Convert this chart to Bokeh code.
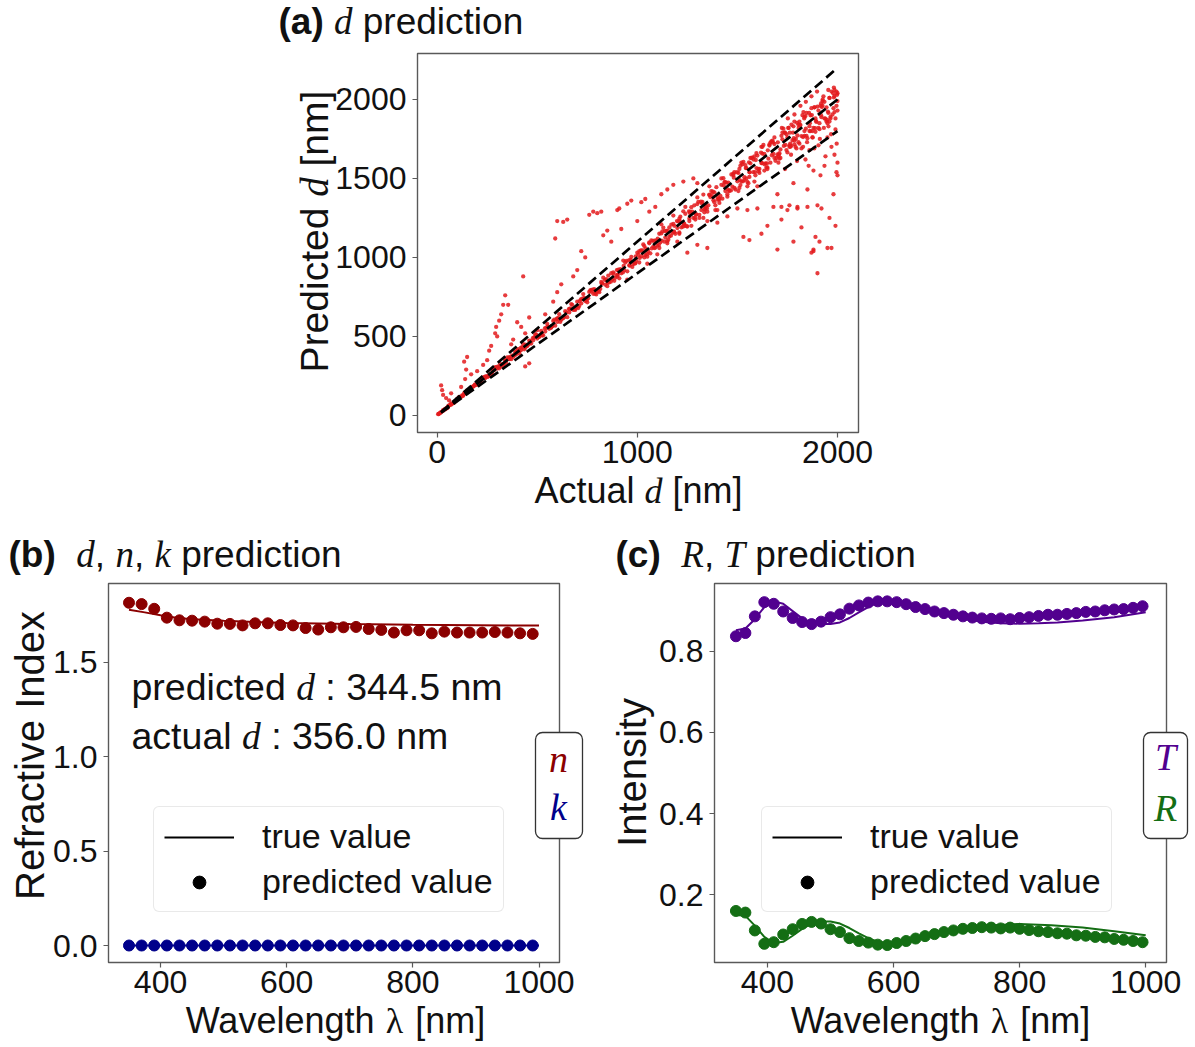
import math
from bokeh.plotting import figure
from bokeh.models import (Label, Legend, LegendItem, FixedTicker, PrintfTickFormatter,
                          BoxAnnotation, Range1d, LinearAxis)
from bokeh.layouts import column, row
from bokeh.embed import file_html
from bokeh.resources import INLINE

# ---------------- data: panel (a) ----------------
core_actual = [20, 40, 60, 80, 100, 120, 140, 160, 180, 200, 220, 240, 260, 280, 300, 320, 340, 360, 380, 400,
               420, 440, 460, 480, 500, 520, 540, 560, 580, 600, 620, 640, 660, 680, 700, 720, 740, 760, 780, 800,
               820, 840, 860, 880, 900, 920, 940, 960, 980, 1000, 1020, 1040, 1060, 1080, 1100, 1120, 1140, 1160, 1180, 1200,
               1220, 1240, 1260, 1280, 1300, 1320, 1340, 1360, 1380, 1400, 1420, 1440, 1460, 1480, 1500, 1520, 1540, 1560, 1580, 1600,
               1620, 1640, 1660, 1680, 1700, 1720, 1740, 1760, 1780, 1800, 1820, 1840, 1860, 1880, 1900, 1920, 1940, 1960, 1980, 2000]
core_pred = [21, 38, 63, 78, 104, 117, 146, 155, 183, 194, 228, 236, 252, 288, 297, 310, 351, 356, 370, 413,
             415, 428, 474, 476, 487, 535, 531, 548, 598, 592, 605, 660, 652, 668, 720, 709, 724, 782, 770, 785,
             845, 828, 842, 906, 890, 900, 968, 951, 958, 1030, 1008, 1015, 1090, 1068, 1075, 1152, 1126, 1132, 1212, 1186,
             1190, 1276, 1246, 1250, 1338, 1300, 1310, 1398, 1362, 1366, 1460, 1420, 1424, 1522, 1482, 1480, 1585, 1540, 1540, 1645,
             1598, 1596, 1708, 1655, 1652, 1770, 1712, 1710, 1830, 1772, 1768, 1895, 1830, 1820, 1955, 1888, 1878, 2010, 1945, 1930]

wide_actual = [30, 50, 70, 90, 110, 130, 150, 170, 190, 210, 230, 250, 270, 290, 310, 330, 350, 370, 390, 410,
               430, 450, 470, 490, 510, 530, 550, 570, 590, 610, 630, 650, 670, 690, 710, 730, 750, 770, 790, 810,
               830, 850, 870, 890, 910, 930, 950, 970, 990, 1010, 1030, 1050, 1070, 1090, 1110, 1130, 1150, 1170, 1190, 1210,
               1230, 1250, 1270, 1290, 1310, 1330, 1350, 1370, 1390, 1410, 1430, 1450, 1470, 1490, 1510, 1530, 1550, 1570, 1590, 1610,
               1630, 1650, 1670, 1690, 1710, 1730, 1750, 1770, 1790, 1810, 1830, 1850, 1870, 1890, 1910, 1930, 1950, 1970, 1990, 2000]
wide_pred = [34, 46, 74, 88, 116, 124, 158, 162, 196, 199, 241, 244, 262, 305, 298, 318, 368, 356, 402, 392,
             452, 441, 455, 514, 498, 507, 580, 556, 568, 641, 618, 622, 705, 668, 692, 768, 716, 795, 770, 780,
             872, 818, 900, 872, 868, 980, 912, 1003, 962, 968, 1082, 1005, 1108, 1062, 1060, 1188, 1102, 1208, 1150, 1158,
             1292, 1196, 1318, 1240, 1250, 1398, 1290, 1420, 1330, 1345, 1502, 1385, 1525, 1430, 1440, 1605, 1478, 1630, 1520, 1535,
             1712, 1570, 1735, 1612, 1625, 1815, 1665, 1840, 1700, 1720, 1920, 1755, 1945, 1795, 1812, 2020, 1850, 2050, 1880, 1990]

near_actual = [15, 45, 65, 95, 125, 155, 185, 215, 245, 275, 305, 335, 365, 395, 425, 455, 485, 515, 545, 575,
               605, 635, 665, 695, 725, 755, 785, 815, 845, 875, 905, 935, 965, 995, 1025, 1055, 1085, 1115, 1145, 1175,
               1205, 1235, 1265, 1295, 1325, 1355, 1385, 1415, 1445, 1475, 1505, 1535, 1565, 1595, 1625, 1655, 1685, 1715, 1745, 1775,
               1805, 1835, 1865, 1895, 1925, 1955, 1985, 1995]
near_pred = [16, 44, 67, 93, 127, 152, 188, 211, 249, 270, 311, 329, 371, 388, 433, 447, 494, 506, 555, 565,
             617, 623, 678, 683, 739, 742, 800, 801, 862, 860, 923, 918, 985, 978, 1045, 1036, 1106, 1095, 1168, 1155,
             1228, 1213, 1290, 1272, 1352, 1330, 1412, 1390, 1474, 1448, 1535, 1508, 1596, 1566, 1657, 1625, 1718, 1684, 1780, 1742,
             1840, 1800, 1900, 1858, 1962, 1915, 2022, 1960]

mid_actual = [10, 28, 55, 85, 105, 135, 165, 195, 225, 255, 285, 315, 345, 375, 405, 435, 465, 495, 525, 555,
              585, 615, 645, 675, 705, 735, 765, 795, 825, 855, 885, 915, 945, 975, 1005, 1035, 1065, 1095, 1125, 1155,
              1185, 1215, 1245, 1275, 1305, 1335, 1365, 1395, 1425, 1455, 1485, 1515, 1545, 1575, 1605, 1635, 1665, 1695, 1725, 1755,
              1785, 1815, 1845, 1875, 1905, 1935, 1965, 1998]
mid_pred = [12, 27, 58, 81, 106, 141, 159, 197, 234, 246, 288, 327, 333, 380, 420, 419, 470, 512, 506, 562,
            606, 592, 652, 700, 680, 744, 792, 766, 836, 885, 852, 926, 978, 940, 1018, 1072, 1026, 1108, 1165, 1112,
            1200, 1258, 1198, 1290, 1352, 1286, 1382, 1445, 1372, 1473, 1540, 1458, 1565, 1632, 1545, 1655, 1726, 1630, 1748, 1820,
            1716, 1838, 1915, 1800, 1930, 1985, 1890, 2030]

side_actual = [5, 38, 72, 112, 142, 178, 208, 238, 268, 298, 328, 358, 388, 418, 448, 478, 508, 538, 568, 598,
               628, 658, 688, 718, 748, 778, 808, 838, 868, 898, 928, 958, 988, 1018, 1048, 1078, 1108, 1138, 1168, 1198,
               1228, 1258, 1288, 1318, 1348, 1378, 1408, 1438, 1468, 1498, 1528, 1558, 1588, 1618, 1648, 1678, 1708, 1738, 1768, 1798,
               1828, 1858, 1888, 1918, 1948, 1978]
side_pred = [8, 40, 70, 115, 139, 182, 204, 244, 262, 305, 321, 366, 380, 428, 438, 489, 497, 551, 555, 612,
             614, 673, 672, 735, 730, 797, 789, 858, 847, 920, 905, 981, 963, 1044, 1021, 1105, 1080, 1167, 1138, 1230,
             1195, 1292, 1252, 1354, 1310, 1416, 1368, 1478, 1424, 1540, 1482, 1602, 1540, 1664, 1596, 1728, 1652, 1790, 1706, 1852,
             1762, 1915, 1818, 1975, 1870, 2040]

tight_actual = [8, 18, 33, 52, 68, 88, 98, 128, 148, 168, 188, 218, 232, 262, 282, 312, 342, 362, 392, 412,
                442, 462, 492, 522, 552, 572, 602, 632, 662, 682, 712, 742, 772, 792, 822, 852, 882, 902, 932, 962,
                992, 1012, 1042, 1072, 1102, 1122, 1152, 1182, 1212, 1232, 1262, 1292, 1322, 1342, 1372, 1402, 1432, 1452, 1482, 1512,
                1542, 1562, 1592, 1622, 1652, 1672, 1702, 1732, 1762, 1782, 1812, 1842, 1872, 1892, 1922, 1952, 1982]
tight_pred = [9, 18, 34, 51, 69, 87, 100, 126, 150, 166, 191, 215, 235, 259, 286, 308, 347, 358, 397, 407,
              448, 456, 499, 515, 560, 565, 611, 623, 672, 672, 723, 731, 784, 781, 835, 840, 896, 890, 946, 948,
              1007, 997, 1058, 1057, 1119, 1106, 1170, 1165, 1231, 1214, 1282, 1273, 1343, 1323, 1394, 1381, 1455, 1431, 1505, 1490,
              1566, 1539, 1617, 1598, 1678, 1647, 1729, 1706, 1790, 1755, 1840, 1815, 1901, 1864, 1952, 1923, 2013]

upper_actual = [1010, 1035, 1060, 1085, 1110, 1135, 1160, 1185, 1210, 1235, 1260, 1285, 1310, 1335, 1360, 1385, 1410, 1435, 1460, 1485,
                1510, 1535, 1560, 1585, 1610, 1635, 1660, 1685, 1710, 1735, 1760, 1785, 1810, 1835, 1860, 1885, 1910, 1935, 1960, 1985]
upper_pred = [1040, 1000, 1095, 1060, 1150, 1100, 1190, 1160, 1245, 1200, 1230, 1330, 1270, 1305, 1395, 1350, 1370, 1475, 1420, 1440,
              1560, 1490, 1510, 1640, 1560, 1590, 1715, 1630, 1660, 1790, 1700, 1740, 1860, 1770, 1800, 1950, 1850, 1880, 2010, 1920]

top_actual = [1505, 1525, 1545, 1565, 1585, 1605, 1625, 1645, 1665, 1685, 1705, 1725, 1745, 1765, 1785, 1805, 1825, 1845, 1865, 1885,
              1905, 1925, 1945, 1965, 1985, 1515, 1555, 1595, 1635, 1675, 1715, 1755, 1795, 1835, 1875, 1915, 1955, 1995]
top_pred = [1420, 1590, 1500, 1630, 1480, 1560, 1700, 1570, 1600, 1760, 1640, 1790, 1680, 1700, 1860, 1730, 1900, 1770, 1800, 1950,
            1820, 1990, 1860, 1880, 2060, 1580, 1470, 1660, 1550, 1740, 1630, 1820, 1690, 1890, 1760, 1960, 1830, 2050]

high_actual = [1705, 1722, 1738, 1752, 1768, 1785, 1798, 1815, 1828, 1842, 1856, 1870, 1884, 1898, 1912, 1926, 1940, 1954, 1968, 1982,
               1996, 2000, 1990, 1975, 1960, 1945, 1932, 1918, 1905, 1890, 1876, 1862, 1848, 1834, 1820, 1806, 1792, 1778, 1764, 1750,
               1995, 1985, 2000, 1970, 1950, 1935, 1915, 1880, 1860, 1840, 1650, 1620, 1580, 1550, 1520, 1480, 1450, 1420, 1390, 1360,
               1330, 1300, 1270, 1240, 1210, 1180, 1150, 1120]
high_pred = [1600, 1820, 1560, 1880, 1650, 1905, 1610, 1960, 1700, 1985, 1580, 2020, 1690, 2050, 1750, 2000, 1640, 2060, 1780, 2075,
             1720, 2040, 1810, 1905, 1860, 1950, 1820, 1900, 1710, 1880, 1760, 1850, 1730, 1880, 1690, 1820, 1750, 1790, 1720, 1760,
             1540, 1650, 1600, 1700, 1760, 1580, 1520, 1550, 1680, 1620, 1560, 1700, 1620, 1450, 1600, 1530, 1400, 1500, 1300, 1450,
             1250, 1380, 1200, 1320, 1150, 1265, 1090, 1210]

over_actual = [20, 25, 30, 45, 70, 60, 120, 140, 145, 150, 135, 170, 200, 230, 250, 260, 270, 290, 295, 300,
               310, 320, 330, 340, 355, 370, 380, 400, 420, 430, 440, 460, 500, 540, 580, 590, 600, 620, 600, 630,
               650, 680, 700, 720, 740, 760, 780, 800, 820, 830, 850, 870, 900, 910, 920, 950, 970, 1000, 1020, 1040,
               1060, 1090, 1120, 1150, 1180, 1230, 1280, 1300]
over_pred = [190, 160, 130, 110, 140, 95, 180, 230, 290, 370, 340, 260, 280, 320, 350, 410, 440, 520, 560, 500,
             600, 640, 700, 760, 700, 450, 480, 590, 560, 880, 520, 620, 540, 640, 720, 1120, 780, 830, 1230, 1225,
             1240, 880, 920, 1040, 1000, 1270, 1290, 1280, 1290, 1140, 1170, 1100, 1300, 1310, 1180, 1340, 1360, 1230, 1350, 1370,
             1290, 1320, 1400, 1430, 1460, 1480, 1500, 1470]

under_actual = [440, 460, 1200, 1250, 1300, 1350, 1400, 1450, 1500, 1530, 1560, 1600, 1620, 1650, 1680, 1700, 1720, 1750, 1780, 1800,
                1820, 1850, 1870, 1880, 1890, 1900, 1910, 1920, 1950, 1960, 1990, 2000, 1980, 1850, 1780, 1700, 1600, 1550, 1400, 1350,
                1100, 1050, 950, 900, 1720, 1760, 1800, 1900, 1880, 1970]
under_pred = [310, 330, 1100, 1030, 1080, 1060, 1220, 1260, 1310, 1130, 1110, 1310, 1150, 1200, 1320, 1050, 1240, 1300, 1100, 1310,
              1190, 1320, 1030, 1050, 1130, 900, 1100, 1310, 1060, 1250, 1200, 1520, 1400, 1430, 1470, 1400, 1450, 1300, 1300, 1230,
              1020, 960, 860, 880, 1320, 1330, 1320, 1330, 1040, 1060]

ref_x = [20, 2000]
ref_ratios = [1.0, 1.1, 0.9]

# ---------------- data: panel (b) ----------------
nk_wl_pred = [350, 370, 390, 410, 430, 450, 470, 490, 510, 530, 550, 570, 590, 610, 630, 650, 670,
              690, 710, 730, 750, 770, 790, 810, 830, 850, 870, 890, 910, 930, 950, 970, 990]
n_pred = [1.816, 1.809, 1.784, 1.737, 1.723, 1.721, 1.716, 1.705, 1.704, 1.696, 1.707, 1.707, 1.698, 1.696, 1.682, 1.674, 1.686,
          1.686, 1.688, 1.677, 1.672, 1.658, 1.670, 1.670, 1.654, 1.663, 1.658, 1.658, 1.658, 1.661, 1.658, 1.654, 1.651]
k_pred = [0.0, 0.0, 0.0, 0.0, 0.0, 0.0, 0.0, 0.0, 0.0, 0.0, 0.0, 0.0, 0.0, 0.0, 0.0, 0.0, 0.0,
          0.0, 0.0, 0.0, 0.0, 0.0, 0.0, 0.0, 0.0, 0.0, 0.0, 0.0, 0.0, 0.0, 0.0, 0.0, 0.0]
n_true_wl = [350, 375, 400, 425, 450, 500, 550, 600, 700, 800, 900, 1000]
n_true = [1.779, 1.765, 1.750, 1.736, 1.728, 1.720, 1.714, 1.709, 1.703, 1.699, 1.697, 1.695]
k_true_wl = [350, 1000]
k_true = [0.0, 0.0]

# ---------------- data: panel (c) ----------------
rt_wl_pred = [350, 365, 380, 395, 410, 425, 440, 455, 470, 485, 500, 515, 530, 545, 560, 575, 590, 605, 620, 635, 650, 665,
              680, 695, 710, 725, 740, 755, 770, 785, 800, 815, 830, 845, 860, 875, 890, 905, 920, 935, 950, 965, 980, 995]
T_pred = [0.837, 0.845, 0.886, 0.921, 0.917, 0.898, 0.882, 0.872, 0.867, 0.873, 0.884, 0.891, 0.905, 0.913, 0.920, 0.923,
          0.923, 0.921, 0.916, 0.909, 0.904, 0.898, 0.894, 0.890, 0.886, 0.883, 0.881, 0.880, 0.881, 0.879, 0.882, 0.884,
          0.887, 0.890, 0.890, 0.892, 0.894, 0.897, 0.898, 0.901, 0.903, 0.904, 0.907, 0.911]
R_pred = [0.160, 0.156, 0.112, 0.079, 0.083, 0.102, 0.115, 0.128, 0.133, 0.129, 0.115, 0.108, 0.093, 0.086, 0.082, 0.077,
          0.076, 0.081, 0.086, 0.092, 0.098, 0.103, 0.108, 0.112, 0.116, 0.118, 0.120, 0.119, 0.117, 0.119, 0.116, 0.113,
          0.110, 0.108, 0.105, 0.104, 0.100, 0.099, 0.096, 0.095, 0.091, 0.089, 0.086, 0.083]
T_true_wl = [350, 365, 380, 395, 410, 425, 440, 455, 470, 485, 500, 515, 530, 545, 560, 575, 590, 605, 620, 650,
             680, 710, 740, 770, 800, 830, 860, 900, 950, 1000]
T_true = [0.852, 0.856, 0.879, 0.909, 0.923, 0.917, 0.899, 0.881, 0.870, 0.867, 0.867, 0.871, 0.882, 0.896, 0.909, 0.920,
          0.925, 0.924, 0.919, 0.904, 0.891, 0.880, 0.873, 0.869, 0.868, 0.869, 0.871, 0.876, 0.884, 0.896]
R_true_wl = [350, 365, 380, 395, 410, 425, 440, 455, 470, 485, 500, 515, 530, 545, 560, 575, 590, 610, 650, 700,
             750, 800, 850, 900, 950, 1000]
R_true = [0.150, 0.148, 0.124, 0.096, 0.081, 0.084, 0.099, 0.116, 0.129, 0.134, 0.134, 0.129, 0.118, 0.105, 0.093, 0.084,
          0.080, 0.080, 0.094, 0.114, 0.124, 0.128, 0.125, 0.119, 0.110, 0.100]

# ---------------- style ----------------
SANS = "Liberation Sans"
SERIF = "Liberation Serif"
RED = "#e31a1c"
C_N = "#8b0000"
C_K = "#00008b"
C_T = "#52008f"
C_R = "#146e14"
FRAME = "#595959"
TXT = "#111111"
NAN = float("nan")

W_SANS = {' ': 278, '(': 333, ')': 333, '[': 278, ']': 278, ':': 278, '.': 278, ',': 278,
          'a': 556, 'b': 556, 'c': 500, 'd': 556, 'e': 556, 'f': 278, 'g': 556, 'h': 556, 'i': 222,
          'k': 500, 'l': 222, 'm': 833, 'n': 556, 'o': 556, 'p': 556, 'r': 333, 's': 500, 't': 278,
          'u': 556, 'v': 500, 'x': 500, 'y': 500, 'A': 667, 'I': 278, 'P': 667, 'R': 722, 'T': 611, 'W': 944}
W_BOLD = {' ': 278, '(': 333, ')': 333, 'a': 556, 'b': 611, 'c': 556}
W_SERI = {'d': 500, 'n': 500, 'k': 444, 'R': 611, 'T': 556, '\u03bb': 540, ' ': 250}
KINDS = {"sans": (W_SANS, SANS, "normal"), "bold": (W_BOLD, SANS, "bold"),
         "math": (W_SERI, SERIF, "italic"), "greek": (W_SERI, SERIF, "normal")}

# observed shift of the rendered alphabetic baseline (fraction of the font size)
H_SHIFT = 0.30
V_SHIFT = 0.43


def tw(s, kind, size):
    table = KINDS[kind][0]
    return sum(table.get(ch, 556) for ch in s) * size / 1000.0


class Panel:
    """A figure whose frame fills its whole canvas; the visible plot box and
    the axes are placed inside it so that no text is clipped."""

    def __init__(self, region, box, xr, yr, xt, yt, xfmt, yfmt):
        X0, Y0, W, H = region
        l, t, r, b = box
        sx = (r - l) / (xr[1] - xr[0])
        sy = (b - t) / (yr[1] - yr[0])
        x_start = xr[0] - (l - X0) / sx
        x_end = xr[1] + (X0 + W - r) / sx
        y_end = yr[1] + (t - Y0) / sy
        y_start = yr[0] - (Y0 + H - b) / sy
        self.X0, self.Y0, self.W, self.H = X0, Y0, W, H
        p = figure(width=W, height=H, x_range=Range1d(x_start, x_end), y_range=Range1d(y_start, y_end),
                   min_border=0, x_axis_location=None, y_axis_location=None,
                   output_backend="svg", toolbar_location=None, tools="")
        p.grid.visible = False
        p.outline_line_color = None
        p.background_fill_color = "white"
        p.border_fill_color = "white"
        xa = LinearAxis(fixed_location=yr[0], ticker=FixedTicker(ticks=xt),
                        formatter=PrintfTickFormatter(format=xfmt))
        ya = LinearAxis(fixed_location=xr[0], ticker=FixedTicker(ticks=yt),
                        formatter=PrintfTickFormatter(format=yfmt))
        for ax in (xa, ya):
            ax.axis_line_color = None
            ax.major_tick_line_color = FRAME
            ax.major_tick_line_width = 1.2
            ax.major_tick_out = 5
            ax.major_tick_in = 0
            ax.minor_tick_line_color = None
            ax.major_label_text_font = SANS
            ax.major_label_text_font_size = "32px"
            ax.major_label_text_color = TXT
        xa.major_label_standoff = 3
        ya.major_label_standoff = 6
        p.add_layout(xa, "below")
        p.add_layout(ya, "left")
        p.add_layout(BoxAnnotation(left=xr[0], right=xr[1], bottom=yr[0], top=yr[1],
                                   fill_color=None, fill_alpha=0, line_color=FRAME, line_alpha=1.0,
                                   line_width=1.4))
        self.p = p

    def sx(self, px):
        return px - self.X0

    def sy(self, py):
        return self.Y0 + self.H - py

    def put(self, segs, px, py, angle=0.0, center=False):
        total = sum(tw(t, k, s) for (t, k, s, c) in segs)
        cur = -total / 2.0 if center else 0.0
        for (t, k, s, c) in segs:
            lead = len(t) - len(t.lstrip())
            off = tw(t[:lead], k, s)
            body = t.strip()
            if body:
                if angle == 0:
                    x, y = self.sx(px) + cur + off, self.sy(py) + H_SHIFT * s
                else:
                    x, y = self.sx(px) - V_SHIFT * s, self.sy(py) + cur + off
                _, font, style = KINDS[k]
                self.p.add_layout(Label(x=x, y=y, x_units="screen", y_units="screen", text=body,
                                        text_font=font, text_font_style=style, text_font_size=f"{s}px",
                                        text_color=c, text_align="left", text_baseline="alphabetic",
                                        angle=angle))
            cur += tw(t, k, s)

    def legend(self, left, bottom):
        p = self.p
        r1 = p.line([NAN], [NAN], color="black", line_width=2)
        r2 = p.scatter([NAN], [NAN], size=11, color="black")
        lg = Legend(items=[LegendItem(label="true value", renderers=[r1]),
                           LegendItem(label="predicted value", renderers=[r2])],
                    location=(self.sx(left), self.sy(bottom)), orientation="vertical")
        lg.label_text_font = SANS
        lg.label_text_font_size = "34px"
        lg.label_text_color = TXT
        lg.glyph_width = 70
        lg.glyph_height = 32
        lg.label_height = 32
        lg.spacing = 6
        lg.padding = 10
        lg.margin = 0
        lg.label_standoff = 28
        lg.border_line_color = "#d4d4d4"
        lg.border_line_width = 1.5
        lg.background_fill_alpha = 0.8
        if "border_radius" in Legend.properties():
            lg.border_radius = 6
        p.add_layout(lg)

    def side_box(self, x0, x1, y0, y1, items):
        kw = dict(left=self.sx(x0), right=self.sx(x1), top=self.sy(y0), bottom=self.sy(y1),
                  left_units="screen", right_units="screen", top_units="screen", bottom_units="screen",
                  fill_color="white", fill_alpha=1.0, line_color="#333333", line_alpha=1.0, line_width=1.3)
        if "border_radius" in BoxAnnotation.properties():
            kw["border_radius"] = 7
        self.p.add_layout(BoxAnnotation(**kw))
        for (t, c, px, py) in items:
            self.p.add_layout(Label(x=self.sx(px), y=self.sy(py), x_units="screen", y_units="screen", text=t,
                                    text_font=SERIF, text_font_style="italic", text_font_size="38px",
                                    text_color=c, text_align="center", text_baseline="middle"))


# ---------------- panel (a) ----------------
A = Panel((0, 0, 1194, 523), (417, 53, 858, 432), (-98, 2105), (-108, 2291),
          [0, 1000, 2000], [0, 500, 1000, 1500, 2000], "%d", "%d")
for xs, ys in ((core_actual, core_pred), (wide_actual, wide_pred), (near_actual, near_pred),
               (mid_actual, mid_pred), (side_actual, side_pred), (tight_actual, tight_pred),
               (upper_actual, upper_pred), (top_actual, top_pred),
               (high_actual, high_pred), (over_actual, over_pred), (under_actual, under_pred)):
    A.p.scatter(xs, ys, size=4.3, color=RED, alpha=0.85, line_width=0)
for r in ref_ratios:
    A.p.line(ref_x, [r * v for v in ref_x], color="black", line_width=2.7, line_dash="10 5")
A.put([("(a)", "bold", 37, TXT), (" ", "sans", 37, TXT), ("d", "math", 37, TXT),
       (" prediction", "sans", 37, TXT)], 278, 32)
A.put([("Actual ", "sans", 36, TXT), ("d", "math", 36, TXT), (" [nm]", "sans", 36, TXT)],
      638, 501, center=True)
A.put([("Predicted ", "sans", 39, TXT), ("d", "math", 39, TXT), (" [nm]", "sans", 39, TXT)],
      331, 231, angle=math.pi / 2, center=True)

# ---------------- panel (b) ----------------
B = Panel((0, 523, 596, 523), (108, 583, 559, 962), (317.5, 1032.5), (-0.09, 1.918),
          [400, 600, 800, 1000], [0.0, 0.5, 1.0, 1.5], "%d", "%.1f")
B.p.line(n_true_wl, n_true, color=C_N, line_width=2)
B.p.line(k_true_wl, k_true, color=C_K, line_width=2)
B.p.scatter(nk_wl_pred, n_pred, size=11, color=C_N)
B.p.scatter(nk_wl_pred, k_pred, size=11, color=C_K)
B.put([("(b)", "bold", 37, TXT), ("  ", "sans", 37, TXT), ("d", "math", 37, TXT), (", ", "sans", 37, TXT),
       ("n", "math", 37, TXT), (", ", "sans", 37, TXT), ("k", "math", 37, TXT),
       (" prediction", "sans", 37, TXT)], 8, 565)
B.put([("Wavelength ", "sans", 36, TXT), ("\u03bb", "greek", 36, TXT), (" [nm]", "sans", 36, TXT)],
      335, 1031, center=True)
B.put([("Refractive Index", "sans", 40, TXT)], 47, 755, angle=math.pi / 2, center=True)
B.put([("predicted ", "sans", 37.5, TXT), ("d", "math", 37.5, TXT), (" : 344.5 nm", "sans", 37.5, TXT)], 131, 698)
B.put([("actual ", "sans", 37.5, TXT), ("d", "math", 37.5, TXT), (" : 356.0 nm", "sans", 37.5, TXT)], 131, 747)
B.legend(153, 912)
B.side_box(535, 582, 732, 838, [("n", C_N, 558, 758), ("k", C_K, 558, 806)])

# ---------------- panel (c) ----------------
C = Panel((596, 523, 598, 523), (714, 583, 1166, 962), (316, 1033), (0.033, 0.967),
          [400, 600, 800, 1000], [0.2, 0.4, 0.6, 0.8], "%d", "%.1f")
C.p.line(T_true_wl, T_true, color=C_T, line_width=2)
C.p.line(R_true_wl, R_true, color=C_R, line_width=2)
C.p.scatter(rt_wl_pred, T_pred, size=11, color=C_T)
C.p.scatter(rt_wl_pred, R_pred, size=11, color=C_R)
C.put([("(c)", "bold", 37, TXT), ("  ", "sans", 37, TXT), ("R", "math", 37, TXT), (", ", "sans", 37, TXT),
       ("T", "math", 37, TXT), (" prediction", "sans", 37, TXT)], 615, 565)
C.put([("Wavelength ", "sans", 36, TXT), ("\u03bb", "greek", 36, TXT), (" [nm]", "sans", 36, TXT)],
      940, 1031, center=True)
C.put([("Intensity", "sans", 40, TXT)], 649, 772, angle=math.pi / 2, center=True)
C.legend(761, 912)
C.side_box(1143, 1187, 732, 838, [("T", C_T, 1165, 756), ("R", C_R, 1165, 807)])

layout = column(A.p, row(B.p, C.p, spacing=0), spacing=0)
open("out.html", "w").write(file_html(layout, INLINE))
